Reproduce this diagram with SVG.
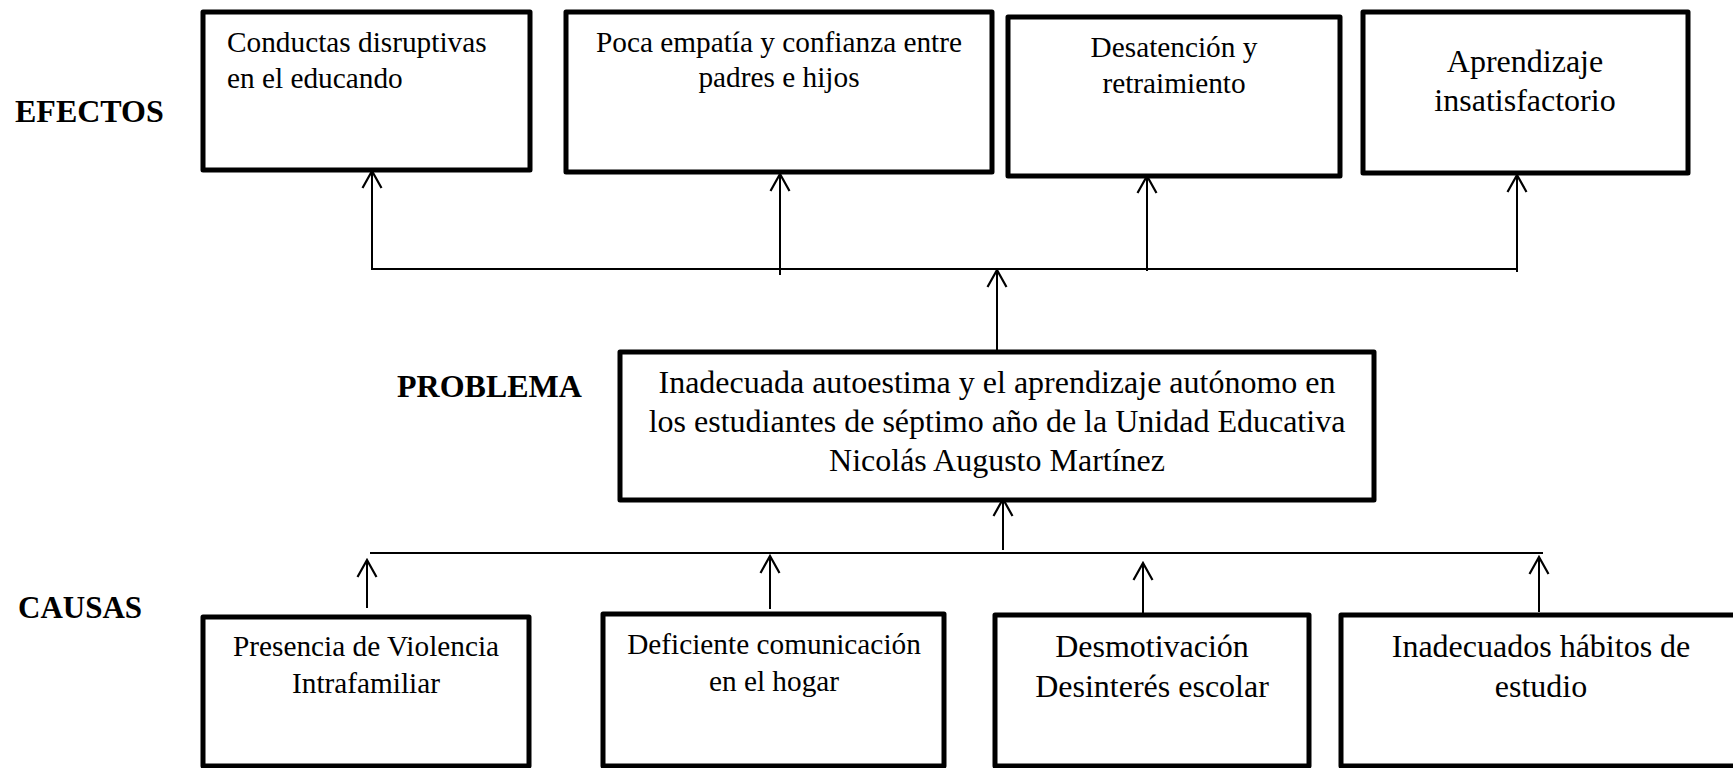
<svg xmlns="http://www.w3.org/2000/svg" width="1733" height="768" viewBox="0 0 1733 768">
<style>
.box{fill:#fff;stroke:#000;stroke-width:5;stroke-linejoin:round}
.t{font-family:"Liberation Serif","Times New Roman",serif;fill:#000}
.s29{font-size:29.3px}
.s32{font-size:32px}
.lbl{font-family:"Liberation Serif","Times New Roman",serif;font-weight:bold;font-size:32px;fill:#000}
.c{text-anchor:middle}
.ln{stroke:#000;stroke-width:2;fill:none}
.ar{stroke:#000;stroke-width:2;fill:none;marker-end:url(#ah)}
</style>
<defs>
<marker id="ah" markerUnits="userSpaceOnUse" viewBox="-19 -12 21 24" markerWidth="21" markerHeight="24" refX="0" refY="0" orient="auto">
<path d="M-17,-9.5 L0,0 L-17,9.5" fill="none" stroke="#000" stroke-width="2.2"/>
</marker>
</defs>
<rect width="1733" height="768" fill="#fff"/>

<g id="labels">
<text class="lbl" x="15" y="122">EFECTOS</text>
<text class="lbl" x="397" y="397">PROBLEMA</text>
<text class="lbl" x="18" y="618" style="font-size:31px">CAUSAS</text>
</g>

<g id="connectors">
<path class="ln" d="M371,269 H1517"/>
<path class="ar" d="M372,269 V171"/>
<path class="ar" d="M780,275 V174"/>
<path class="ar" d="M1147,271 V176"/>
<path class="ar" d="M1517,272 V175"/>
<path class="ar" d="M997,365 V270"/>
<path class="ln" d="M370,553 H1543"/>
<path class="ar" d="M1003,550 V499"/>
<path class="ar" d="M367,608 V560"/>
<path class="ar" d="M770,609 V556"/>
<path class="ar" d="M1143,619 V563"/>
<path class="ar" d="M1539,612 V557"/>
</g>

<g id="efecto1">
<rect class="box" x="203" y="12" width="327" height="158"/>
<text class="t s29" x="227" y="52">Conductas disruptivas</text>
<text class="t s29" x="227" y="88">en el educando</text>
</g>
<g id="efecto2">
<rect class="box" x="566" y="12" width="426" height="160"/>
<text class="t s29 c" x="779" y="52">Poca empatía y confianza entre</text>
<text class="t s29 c" x="779" y="87">padres e hijos</text>
</g>
<g id="efecto3">
<rect class="box" x="1008" y="17" width="332" height="159"/>
<text class="t s29 c" x="1174" y="57">Desatención y</text>
<text class="t s29 c" x="1174" y="93">retraimiento</text>
</g>
<g id="efecto4">
<rect class="box" x="1363" y="12" width="325" height="161"/>
<text class="t s32 c" x="1525" y="72">Aprendizaje</text>
<text class="t s32 c" x="1525" y="111">insatisfactorio</text>
</g>

<g id="problema">
<rect class="box" x="620" y="352" width="754" height="148"/>
<text class="t s32 c" x="997" y="393">Inadecuada autoestima y el aprendizaje autónomo en</text>
<text class="t s32 c" x="997" y="432">los estudiantes de séptimo año de la Unidad Educativa</text>
<text class="t s32 c" x="997" y="471">Nicolás Augusto Martínez</text>
</g>

<g id="causa1">
<rect class="box" x="203" y="617" width="326" height="149"/>
<text class="t s29 c" x="366" y="656">Presencia de Violencia</text>
<text class="t s29 c" x="366" y="693">Intrafamiliar</text>
</g>
<g id="causa2">
<rect class="box" x="603" y="614" width="341" height="152"/>
<text class="t s29 c" x="774" y="654">Deficiente comunicación</text>
<text class="t s29 c" x="774" y="691">en el hogar</text>
</g>
<g id="causa3">
<rect class="box" x="995" y="615" width="314" height="151"/>
<text class="t s32 c" x="1152" y="657">Desmotivación</text>
<text class="t s32 c" x="1152" y="697">Desinterés escolar</text>
</g>
<g id="causa4">
<rect class="box" x="1341" y="615" width="400" height="151"/>
<text class="t s32 c" x="1541" y="657">Inadecuados hábitos de</text>
<text class="t s32 c" x="1541" y="697">estudio</text>
</g>
</svg>
